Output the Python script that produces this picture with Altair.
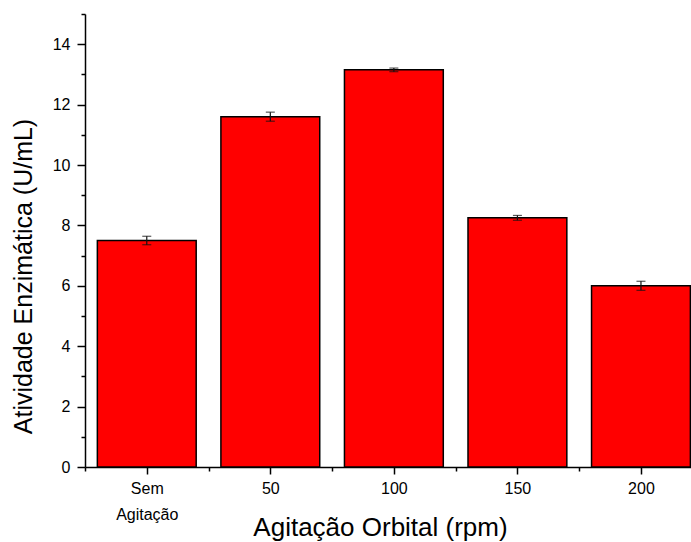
import altair as alt
import pandas as pd

# Enzyme activity by orbital shaking speed
categories = ["Sem\nAgitação", "50", "100", "150", "200"]
activity = [7.5, 11.6, 13.15, 8.25, 6.0]
error = [0.14, 0.15, 0.06, 0.08, 0.15]

y_major = [0, 2, 4, 6, 8, 10, 12, 14]
y_minor = [1, 3, 5, 7, 9, 11, 13, 15]

df = pd.DataFrame({
    "pos": list(range(1, len(categories) + 1)),
    "cat": categories,
    "val": activity,
    "err": error,
})


def js_label(text):
    parts = text.split("\n")
    if len(parts) == 1:
        return "'" + parts[0] + "'"
    return "[" + ", ".join("'" + p + "'" for p in parts) + "]"


label_expr = ""
for i, c in enumerate(categories, start=1):
    label_expr += f"datum.value == {i} ? {js_label(c)} : "
label_expr += "''"

# boundaries between categories carry the small ticks
x_minor_vals = [i + 0.5 for i in range(0, len(categories))]

# the right edge of the frame cuts the last category slightly
x_scale = alt.Scale(domain=[0.5, 5.405], nice=False, zero=False)
y_scale = alt.Scale(domain=[0, 15], nice=False)

base = alt.Chart(df).transform_calculate(
    lo="datum.pos - 0.4", hi="datum.pos + 0.4",
    elo="datum.val - datum.err", ehi="datum.val + datum.err",
)

bars = base.mark_bar(color="#FF0000", stroke="black", strokeWidth=1.5).encode(
    x=alt.X("lo:Q", scale=x_scale, axis=alt.Axis(
        orient="bottom", values=list(range(1, len(categories) + 1)),
        labelExpr=label_expr, tickSize=7, labelPadding=6, labelLineHeight=26,
        labelFontSize=16, grid=False, title="Agitação Orbital (rpm)",
        titleFontSize=26, titleFontWeight="normal", titleX=295, titleY=60,
        titleAlign="center", titleBaseline="middle",
    )),
    x2="hi:Q",
    y=alt.Y("val:Q", scale=y_scale, axis=alt.Axis(
        orient="left", values=y_major, tickSize=8, labelPadding=7,
        labelFontSize=16, grid=False, title="Atividade Enzimática (U/mL)",
        titleFontSize=25, titleFontWeight="normal", titleX=-62, titleY=262,
        titleAlign="center", titleBaseline="middle", titleAngle=-90,
    )),
    y2=alt.datum(0),
)

err_rules = base.mark_rule(color="#111111", strokeWidth=1.2).encode(
    x=alt.X("pos:Q", scale=x_scale, axis=alt.Axis(
        orient="bottom", values=x_minor_vals, tickSize=4, labels=False,
        grid=False, title=None, domain=False,
    )),
    y=alt.Y("elo:Q", scale=y_scale, axis=alt.Axis(
        orient="left", values=y_minor, tickSize=4, labels=False,
        grid=False, title=None, domain=False,
    )),
    y2="ehi:Q",
)

caps_top = base.mark_tick(color="#111111", size=9, thickness=1.2, orient="horizontal").encode(
    x=alt.X("pos:Q", scale=x_scale, axis=None),
    y=alt.Y("ehi:Q", scale=y_scale, axis=None),
)
caps_bot = base.mark_tick(color="#111111", size=9, thickness=1.2, orient="horizontal").encode(
    x=alt.X("pos:Q", scale=x_scale, axis=None),
    y=alt.Y("elo:Q", scale=y_scale, axis=None),
)

chart = alt.layer(bars, err_rules, caps_top, caps_bot).resolve_axis(
    x="independent", y="independent"
).properties(
    width=606, height=453,
    autosize=alt.AutoSizeParams(type="none"),
    padding={"left": 85, "top": 14, "right": 0, "bottom": 75},
).configure(
    font="Liberation Sans",
).configure_axis(
    domainColor="black", domainWidth=1.5, tickColor="black", tickWidth=1.5,
    labelColor="black", titleColor="black",
).configure_view(stroke=None)

chart.save("out.html", embed_options={"renderer": "svg", "actions": False})
